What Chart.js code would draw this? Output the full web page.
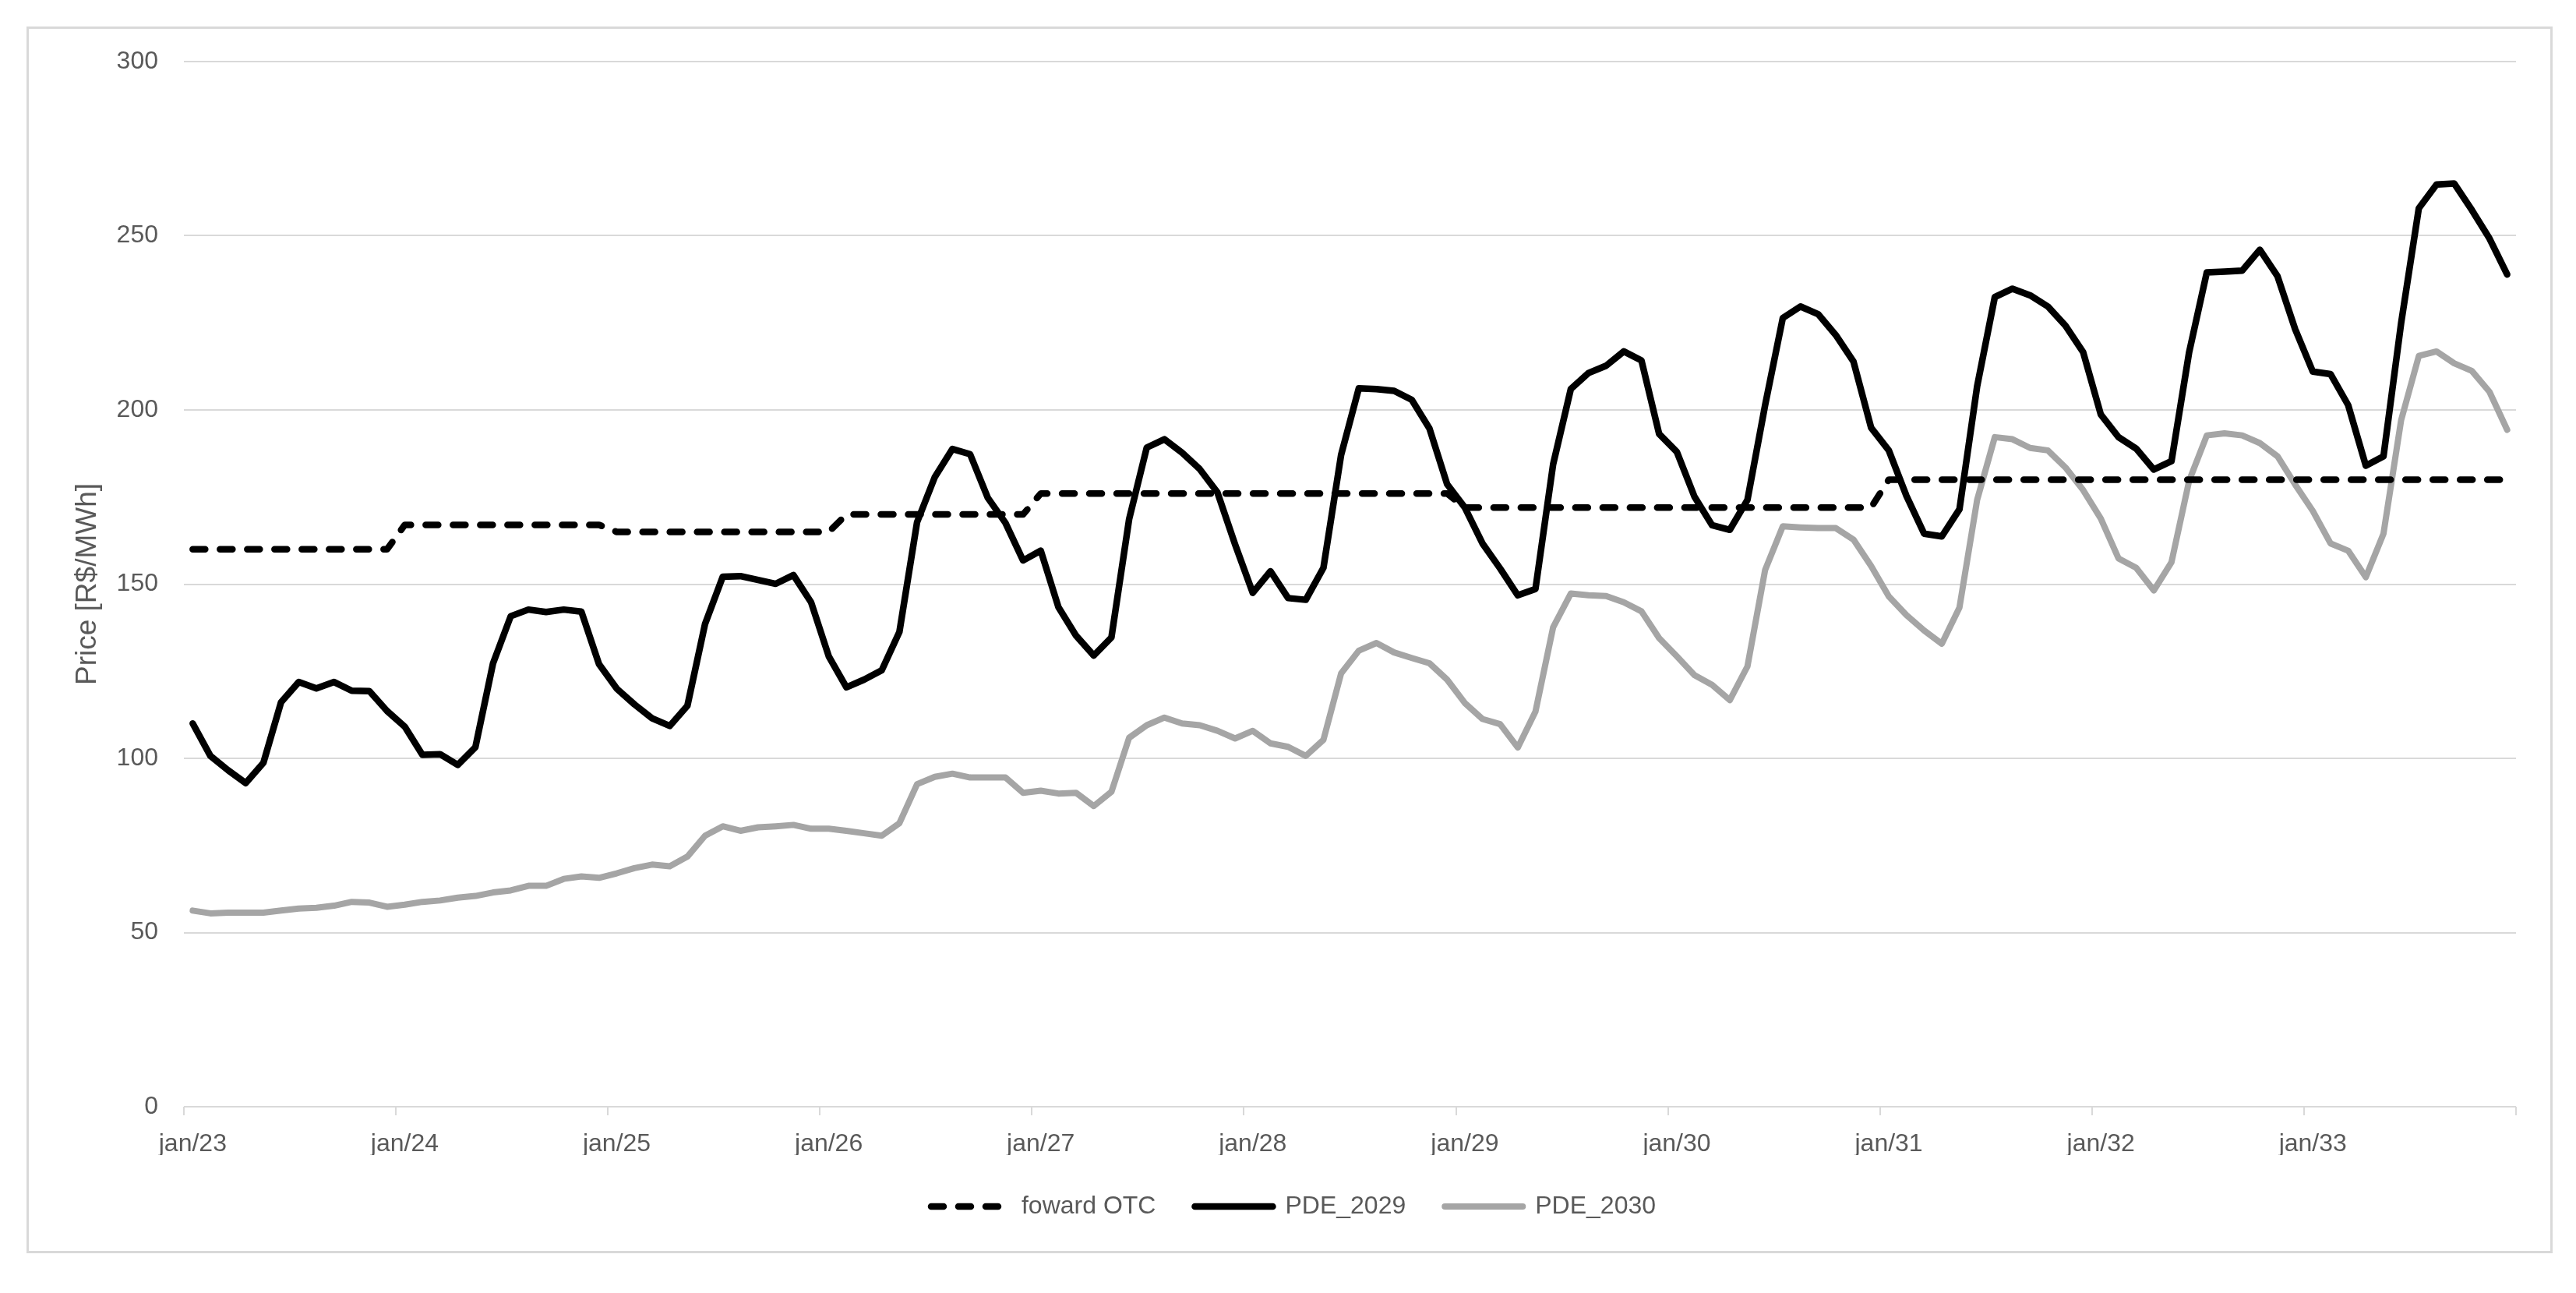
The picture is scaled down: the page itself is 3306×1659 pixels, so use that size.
<!DOCTYPE html>
<html>
<head>
<meta charset="utf-8">
<title>Price [R$/MWh]</title>
<script src="https://cdn.jsdelivr.net/npm/chart.js@4.4.0/dist/chart.umd.min.js"></script>
<style>
    html, body { margin: 0; padding: 0; background: #ffffff; }
    #wrap { position: relative; width: 3306px; height: 1659px; }
    #frame {
        position: absolute; left: 34px; top: 34px; width: 3242px; height: 1574px;
        box-sizing: border-box; border: 3px solid #d9d9d9; pointer-events: none;
    }
    #priceChart { position: absolute; left: 0; top: 0; }
</style>
</head>
<body>
<div id="wrap">
    <div id="frame"></div>
    <canvas id="priceChart" width="3306" height="1659"></canvas>
</div>
<script>
// categories
const monthNames = ["jan", "fev", "mar", "abr", "mai", "jun", "jul", "ago", "set", "out", "nov", "dez"];
const years = ["23", "24", "25", "26", "27", "28", "29", "30", "31", "32", "33"];

// series (R$/MWh), one row per year
const forwardOtc = [
    160, 160, 160, 160, 160, 160, 160, 160, 160, 160, 160, 160,
    167, 167, 167, 167, 167, 167, 167, 167, 167, 167, 167, 167,
    165, 165, 165, 165, 165, 165, 165, 165, 165, 165, 165, 165,
    165, 170, 170, 170, 170, 170, 170, 170, 170, 170, 170, 170,
    176, 176, 176, 176, 176, 176, 176, 176, 176, 176, 176, 176,
    176, 176, 176, 176, 176, 176, 176, 176, 176, 176, 176, 176,
    172, 172, 172, 172, 172, 172, 172, 172, 172, 172, 172, 172,
    172, 172, 172, 172, 172, 172, 172, 172, 172, 172, 172, 172,
    180, 180, 180, 180, 180, 180, 180, 180, 180, 180, 180, 180,
    180, 180, 180, 180, 180, 180, 180, 180, 180, 180, 180, 180,
    180, 180, 180, 180, 180, 180, 180, 180, 180, 180, 180, 180,
];
const pde2029 = [
    110.0, 100.7, 96.6, 92.9, 98.7, 116.1, 121.9, 120.1, 121.9, 119.4, 119.3, 113.6,
    109.1, 101.0, 101.2, 98.1, 103.2, 127.3, 140.8, 142.7, 142.0, 142.7, 142.1, 127.0,
    120.0, 115.5, 111.5, 109.3, 115.1, 138.6, 152.1, 152.3, 151.2, 150.1, 152.6, 144.8,
    129.3, 120.4, 122.6, 125.3, 136.3, 167.8, 180.7, 188.8, 187.3, 174.8, 167.6, 156.8,
    159.6, 143.4, 135.2, 129.5, 134.7, 168.6, 189.2, 191.6, 187.7, 183.0, 176.3, 161.4,
    147.5, 153.7, 146.0, 145.5, 154.7, 187.1, 206.2, 206.0, 205.5, 202.9, 194.7, 178.7,
    172.0, 161.7, 154.5, 146.8, 148.6, 184.4, 206.0, 210.6, 212.7, 216.8, 214.2, 193.1,
    188.0, 175.1, 166.9, 165.6, 174.2, 201.4, 226.4, 229.7, 227.5, 221.5, 213.9, 194.9,
    188.4, 175.3, 164.5, 163.7, 171.5, 206.8, 232.4, 234.8, 232.9, 229.7, 224.2, 216.6,
    198.7, 192.2, 188.9, 182.9, 185.3, 216.6, 239.5, 239.7, 240.0, 246.0, 238.4, 223.2,
    211.0, 210.3, 201.4, 184.0, 186.7, 225.0, 257.9, 264.7, 265.0, 257.4, 249.2, 238.9,
];
const pde2030 = [
    56.3, 55.5, 55.7, 55.7, 55.7, 56.3, 56.9, 57.1, 57.7, 58.8, 58.6, 57.4,
    58.0, 58.8, 59.2, 60.0, 60.5, 61.5, 62.1, 63.4, 63.4, 65.4, 66.1, 65.7,
    67.0, 68.5, 69.5, 69.0, 71.8, 77.8, 80.5, 79.2, 80.2, 80.5, 80.9, 79.8,
    79.8, 79.2, 78.5, 77.8, 81.4, 92.6, 94.7, 95.6, 94.5, 94.5, 94.5, 90.1,
    90.7, 89.9, 90.1, 86.3, 90.4, 105.9, 109.5, 111.7, 110.0, 109.5, 107.9, 105.7,
    107.9, 104.3, 103.3, 100.7, 105.3, 124.4, 130.9, 133.1, 130.4, 128.8, 127.3, 122.6,
    115.9, 111.3, 109.8, 103.1, 113.4, 137.6, 147.3, 146.8, 146.6, 144.8, 142.2, 134.5,
    129.3, 123.9, 121.1, 116.7, 126.4, 154.1, 166.6, 166.3, 166.1, 166.1, 162.8, 155.2,
    146.5, 141.1, 136.7, 132.9, 143.3, 174.2, 192.2, 191.6, 189.1, 188.4, 183.5, 177.0,
    168.8, 157.4, 154.7, 148.2, 156.3, 179.7, 192.7, 193.3, 192.7, 190.5, 186.7, 178.6,
    171.0, 161.7, 159.6, 152.0, 164.5, 197.1, 215.5, 216.8, 213.4, 211.2, 205.2, 194.3,
];

// y axis ticks
const yMin = 0;
const yMax = 300;
const yStep = 50;

document.addEventListener("DOMContentLoaded", function () {
    const labels = [];
    years.forEach((yy) => {
        monthNames.forEach((m) => labels.push(m + "/" + yy));
    });

    const textColor = "#595959";
    const gridColor = "#d9d9d9";
    const fontFamily = "'Liberation Sans', Arial, sans-serif";

    Chart.defaults.font.family = fontFamily;
    Chart.defaults.color = textColor;

    // tick marks only at the january boundaries (and the closing edge)
    const yearTick = (ctx) =>
        ctx.type !== "tick" || ctx.index % 12 === 0 ? gridColor : "rgba(0,0,0,0)";

    const ctxPrice = document.getElementById("priceChart");
    new Chart(ctxPrice.getContext("2d"), {
        type: "line",
        data: {
            labels: labels,
            datasets: [
                {
                    label: "foward OTC",
                    data: forwardOtc,
                    borderColor: "#000000",
                    backgroundColor: "#000000",
                    borderWidth: 8.5,
                    borderDash: [16, 19],
                    borderCapStyle: "round",
                    borderJoinStyle: "round",
                    pointRadius: 0,
                    tension: 0,
                },
                {
                    label: "PDE_2029",
                    data: pde2029,
                    borderColor: "#000000",
                    backgroundColor: "#000000",
                    borderWidth: 8.5,
                    borderCapStyle: "round",
                    borderJoinStyle: "round",
                    pointRadius: 0,
                    tension: 0,
                },
                {
                    label: "PDE_2030",
                    data: pde2030,
                    borderColor: "#a5a5a5",
                    backgroundColor: "#a5a5a5",
                    borderWidth: 8,
                    borderCapStyle: "round",
                    borderJoinStyle: "round",
                    pointRadius: 0,
                    tension: 0,
                },
            ],
        },
        options: {
            responsive: false,
            animation: false,
            devicePixelRatio: 1,
            layout: {
                padding: { left: 91, right: 77, top: 79, bottom: 85 },
            },
            plugins: {
                legend: {
                    position: "bottom",
                    labels: {
                        usePointStyle: true,
                        pointStyle: "line",
                        pointStyleWidth: 100,
                        padding: 50,
                        color: textColor,
                        font: { size: 32 },
                        // the point style sample ignores borderDash, copy the line style over
                        generateLabels: function (chart) {
                            const items = Chart.defaults.plugins.legend.labels.generateLabels(chart);
                            items.forEach((item) => {
                                const ds = chart.data.datasets[item.datasetIndex];
                                item.lineDash = ds.borderDash || [];
                                item.lineCap = ds.borderCapStyle;
                                item.lineWidth = ds.borderWidth;
                                item.strokeStyle = ds.borderColor;
                            });
                            return items;
                        },
                    },
                },
                tooltip: { enabled: false },
            },
            scales: {
                x: {
                    type: "category",
                    offset: true,
                    afterFit: function (scale) {
                        scale.height = 62;
                    },
                    grid: {
                        offset: true,
                        drawOnChartArea: false,
                        drawTicks: true,
                        tickLength: 11,
                        lineWidth: 2,
                        color: yearTick,
                        tickColor: yearTick,
                    },
                    border: { display: false },
                    ticks: {
                        autoSkip: false,
                        maxRotation: 0,
                        minRotation: 0,
                        padding: 18,
                        color: textColor,
                        font: { size: 32 },
                        callback: function (value, index) {
                            return index % 12 === 0 ? this.getLabelForValue(value) : "";
                        },
                    },
                },
                y: {
                    min: yMin,
                    max: yMax,
                    afterFit: function (scale) {
                        scale.width = 145;
                    },
                    grid: {
                        color: gridColor,
                        lineWidth: 2,
                        drawTicks: false,
                    },
                    border: { display: false },
                    ticks: {
                        stepSize: yStep,
                        padding: 33,
                        color: textColor,
                        font: { size: 32 },
                    },
                    title: {
                        display: true,
                        text: "Price [R$/MWh]",
                        color: textColor,
                        font: { size: 37 },
                        padding: 0,
                    },
                },
            },
        },
    });
});
</script>
</body>
</html>
